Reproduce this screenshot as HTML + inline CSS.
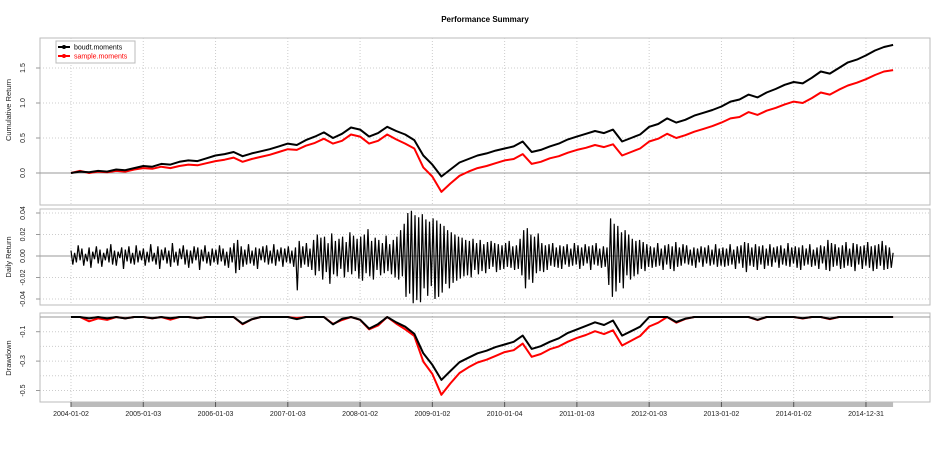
<!DOCTYPE html>
<html><head><meta charset="utf-8"><style>
body{margin:0;background:#fff;}
svg{display:block;font-family:"Liberation Sans",sans-serif;}
</style></head><body>
<svg id="c" width="950" height="450" viewBox="0 0 950 450">
<text x="485" y="22" text-anchor="middle" font-size="8" font-weight="bold">Performance Summary</text>
<g id="g"></g>
</svg>
<script>
const dateLabels = ["2004-01-02","2005-01-03","2006-01-03","2007-01-03","2008-01-02","2009-01-02","2010-01-04","2011-01-03","2012-01-03","2013-01-02","2014-01-02","2014-12-31"];
const dateTickYears = [2004.0,2005.0,2006.0,2007.0,2008.0,2009.0,2010.0,2011.0,2012.0,2013.0,2014.0,2015.0];
const seriesNames = ["boudt.moments","sample.moments"];
const boudtCumulative = [0.00,0.02,0.01,0.03,0.02,0.05,0.04,0.07,
0.10,0.09,0.13,0.12,0.16,0.18,0.17,0.21,
0.25,0.27,0.30,0.24,0.28,0.31,0.34,0.38,
0.42,0.40,0.47,0.52,0.58,0.50,0.56,0.65,
0.62,0.52,0.57,0.66,0.60,0.55,0.47,0.25,
0.12,-0.05,0.05,0.15,0.20,0.25,0.28,0.32,
0.35,0.38,0.45,0.30,0.33,0.38,0.42,0.48,
0.52,0.56,0.60,0.57,0.62,0.45,0.50,0.55,
0.66,0.70,0.78,0.72,0.76,0.82,0.86,0.90,
0.95,1.02,1.05,1.12,1.08,1.15,1.20,1.26,
1.30,1.28,1.36,1.45,1.42,1.50,1.58,1.62,
1.68,1.75,1.80,1.83];
const sampleCumulative = [0.00,0.03,0.00,0.02,0.01,0.03,0.02,0.05,
0.07,0.06,0.09,0.07,0.10,0.12,0.11,0.14,
0.17,0.19,0.22,0.16,0.20,0.23,0.26,0.30,
0.34,0.33,0.39,0.43,0.49,0.42,0.46,0.55,
0.52,0.42,0.46,0.55,0.48,0.42,0.35,0.08,
-0.05,-0.27,-0.15,-0.04,0.02,0.07,0.10,0.14,
0.18,0.20,0.27,0.13,0.16,0.21,0.24,0.29,
0.33,0.36,0.40,0.37,0.41,0.25,0.30,0.35,
0.45,0.49,0.56,0.50,0.54,0.59,0.63,0.67,
0.72,0.78,0.80,0.87,0.83,0.89,0.93,0.98,
1.02,1.00,1.07,1.15,1.12,1.19,1.25,1.29,
1.34,1.40,1.45,1.47];
const dailyReturnsPermille = [
5,-8,3,-6,10,-4,7,-9,2,-5,8,-11,4,-3,9,-7,6,-10,3,-4,7,-6,11,-8,5,-9,4,-2,8,-12,6,-5,9,-7,3,-8,10,-6,5,-4,
7,-9,4,-6,11,-5,3,-8,9,-12,6,-4,8,-7,5,-10,12,-6,4,-9,7,-3,10,-8,6,-11,5,-7,9,-4,8,-13,6,-5,10,-7,4,-9,7,-6,
6,-8,10,-5,7,-9,4,-11,8,-6,12,-16,15,-13,9,-10,6,-8,11,-7,5,-9,8,-12,7,-4,9,-6,10,-8,5,-7,11,-9,6,-5,8,-10,7,-6,
9,-7,5,-10,8,-32,14,-11,9,-8,12,-10,7,-13,15,-18,20,-14,17,-22,18,-15,12,-26,21,-17,14,-19,16,-12,18,-20,13,-15,22,-17,19,-14,16,-21,
18,-23,20,-16,25,-19,14,-22,17,-13,15,-18,12,-16,19,-14,11,-17,15,-20,18,-22,24,-19,30,-38,40,-35,42,-44,38,-41,36,-43,39,-30,34,-37,32,-28,
35,-40,33,-38,30,-34,28,-26,24,-30,22,-25,20,-23,18,-21,17,-19,15,-18,14,-20,16,-13,12,-17,15,-14,11,-16,13,-12,14,-10,12,-15,11,-13,10,-12,
12,-10,14,-11,9,-13,10,-12,16,-18,24,-30,26,-22,20,-25,18,-16,21,-14,12,-15,10,-13,11,-9,12,-10,8,-11,10,-12,9,-8,11,-10,7,-9,12,-8,
10,-12,8,-9,11,-7,9,-13,10,-8,12,-9,7,-11,9,-10,8,-27,35,-38,30,-33,28,-25,22,-30,24,-18,20,-22,16,-19,14,-17,15,-12,13,-14,11,-10,
9,-11,8,-10,12,-9,7,-13,10,-8,11,-12,9,-14,13,-10,8,-9,11,-7,10,-8,6,-9,8,-11,7,-6,9,-10,8,-7,10,-9,6,-8,11,-10,7,-9,
8,-10,7,-9,11,-8,6,-12,9,-7,10,-11,13,-15,12,-9,8,-10,11,-13,9,-8,10,-12,7,-9,11,-10,8,-6,9,-11,10,-8,7,-9,12,-10,8,-7,
9,-11,8,-13,10,-9,7,-8,11,-10,6,-9,8,-12,10,-7,9,-13,15,-14,12,-10,11,-9,8,-12,10,-11,13,-9,7,-10,12,-14,11,-8,9,-12,10,-9,
13,-11,9,-14,10,-12,11,-9,14,-13,10,-12,8,-11,3];
const cumTicks = [0.0,0.5,1.0,1.5];
const dailyTicks = [0.04,0.02,0.00,-0.02,-0.04];
const ddTicks = [-0.1,-0.3,-0.5];
const ddGrid = [-0.1,-0.2,-0.3,-0.4,-0.5];

const NS="http://www.w3.org/2000/svg";
const g=document.getElementById('g');
function el(tag,attrs,parent){const e=document.createElementNS(NS,tag);for(const k in attrs)e.setAttribute(k,attrs[k]);(parent||g).appendChild(e);return e;}
const startYear=2004, stepYear=0.125, endYear=startYear+stepYear*(boudtCumulative.length-1);
const xS=t=>71+(t-2004)*72.27;
const yCum=v=>173-v*70;
const yDaily=v=>256-v*1075;
const yDD=v=>317-v*147;
const L=40,R=930;
const panels=[[38,205],[209,305],[313,402]];
panels.forEach((p,i)=>{
  const r=el('rect',{x:L,y:p[0],width:R-L,height:p[1]-p[0],fill:'none',stroke:'#bbb','stroke-width':1});
  
  
  dateTickYears.forEach(t=>{
    const ln=el('line',{x1:xS(t),x2:xS(t),y1:p[0],y2:p[1],stroke:'#ccc','stroke-dasharray':'1,2'});
    
    
  });
});
function yAxis(ticks,yf,grid,name,title,cy){
  (grid||ticks).forEach(v=>{
    const ln=el('line',{x1:L,x2:R,y1:yf(v),y2:yf(v),stroke:v===0?'#999':'#ccc','stroke-dasharray':v===0?'none':'1,2'});
    
    
  });
  ticks.forEach(v=>{
    const s=(name==='daily')?v.toFixed(2):v.toFixed(1);
    const y=yf(v);
    const tk=el('line',{x1:L-4,x2:L,y1:y,y2:y,stroke:'#999'});
    
    
    const t=el('text',{x:0,y:0,transform:`translate(25,${y}) rotate(-90)`,'text-anchor':'middle','font-size':7,fill:'#222'});
    t.textContent=s;
    
    
  });
  const tt=el('text',{x:0,y:0,transform:`translate(11,${cy}) rotate(-90)`,'text-anchor':'middle','font-size':7.5,fill:'#222'});
  tt.textContent=title;
  
  
}
yAxis(cumTicks,yCum,null,'cumulative','Cumulative Return',110);
yAxis(dailyTicks,yDaily,null,'daily','Daily Return',257);
const zl=el('line',{x1:L,x2:R,y1:yDD(0),y2:yDD(0),stroke:'#999'});


yAxis(ddTicks,yDD,ddGrid,'drawdown','Drawdown',358);

function pts(arr,yf){return arr.map((v,i)=>xS(startYear+i*stepYear).toFixed(1)+','+yf(v).toFixed(1)).join(' ');}
function drawdown(arr){let m=1;return arr.map(v=>{const w=1+v;if(w>m)m=w;return w/m-1;});}
const sRed=el('polyline',{points:pts(sampleCumulative,yCum),fill:'none',stroke:'#f00','stroke-width':2,'stroke-linejoin':'round'});


const sBlk=el('polyline',{points:pts(boudtCumulative,yCum),fill:'none',stroke:'#000','stroke-width':2,'stroke-linejoin':'round'});



const n=dailyReturnsPermille.length;
const dpts=dailyReturnsPermille.map((v,i)=>(xS(startYear)+(xS(endYear)-xS(startYear))*i/(n-1)).toFixed(1)+','+yDaily(v/1000).toFixed(1)).join(' ');
const dl=el('polyline',{points:dpts,fill:'none',stroke:'#000','stroke-width':1.2});



const ddR=el('polyline',{points:pts(drawdown(sampleCumulative),yDD),fill:'none',stroke:'#f00','stroke-width':2,'stroke-linejoin':'round'});


const ddB=el('polyline',{points:pts(drawdown(boudtCumulative),yDD),fill:'none',stroke:'#000','stroke-width':2,'stroke-linejoin':'round'});



const bar=el('rect',{x:xS(startYear),y:402,width:xS(endYear)-xS(startYear),height:5,fill:'#bbb'});


dateTickYears.forEach((t,i)=>{
  const tk=el('line',{x1:xS(t),x2:xS(t),y1:402,y2:407,stroke:'#555'});
  
  
  const tx=el('text',{x:xS(t),y:416,'text-anchor':'middle','font-size':7,fill:'#222'});
  tx.textContent=dateLabels[i];
  
  
});

const lg=el('g',{});


el('rect',{x:56,y:41,width:79,height:22,fill:'#fff',stroke:'#bbb'},lg);
const cols=['#000','#f00'];
seriesNames.forEach((s,i)=>{
  const y=47+i*9;
  const e=el('g',{},lg);
  
  
  el('line',{x1:58,x2:70,y1:y,y2:y,stroke:cols[i],'stroke-width':2},e);
  el('circle',{cx:64,cy:y,r:2,fill:cols[i]},e);
  const t=el('text',{x:74,y:y+2.5,'font-size':7,fill:cols[i]},e);
  t.textContent=s;
});
</script>
</body></html>
